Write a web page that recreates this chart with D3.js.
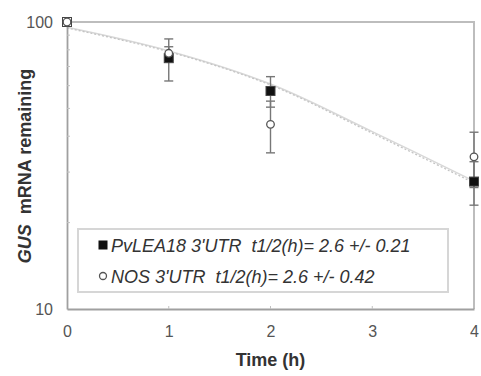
<!DOCTYPE html>
<html>
<head>
<meta charset="utf-8">
<script src="https://cdn.jsdelivr.net/npm/d3@7"></script>
<style>
  body { margin: 0; background: #fff; }
  text { font-family: Arial, "Liberation Sans", sans-serif; }
</style>
</head>
<body>
<script>
// data
var times = [0, 1, 2, 4]
var leaMean = [100, 74.8, 57.5, 27.8]
var leaErr = [0, 12.5, 7, 4.8]
var nosMean = [100, 77.8, 44, 33.9]
var nosErr = [0, 4.2, 9, 7.4]
// fitted curves (as drawn)
var fitTimes = [0, 1, 2, 3, 4]
var leaFit = [95.3, 78.8, 60.3, 41.0, 27.5]
var nosFit = [95.8, 79.3, 60.8, 41.5, 27.9]
var xTicks = [0, 1, 2, 3, 4]
var yTicks = [10, 100]
var yMinor = [20, 30, 40, 50, 60, 70, 80, 90]
var legendLabels = [
    {name: "PvLEA18 3'UTR", stat: "t1/2(h)= 2.6 +/- 0.21"},
    {name: "NOS 3'UTR", stat: "t1/2(h)= 2.6 +/- 0.42"}
]

var W = 481, H = 376
var margin = {top: 22, right: 7, bottom: 67, left: 67}

var x = d3.scaleLinear().domain([0, 4]).range([margin.left, W - margin.right])
var y = d3.scaleLog().domain([10, 100]).range([H - margin.bottom, margin.top])

var svg = d3.select("body").append("svg")
    .attr("width", W)
    .attr("height", H)

var axisCol = "#a0a0a0"
var font = "Arial, 'Liberation Sans', sans-serif"

// frame (top + right)
svg.append("path")
    .attr("d", `M${x(0)},${y(100)}H${x(4)}V${y(10)}`)
    .attr("fill", "none").attr("stroke", "#bdbdbd").attr("stroke-width", 2)

// fit curves
var line = d3.line().x((d, i) => x(fitTimes[i])).y(d => y(d)).curve(d3.curveCatmullRom)
svg.append("path").datum(nosFit)
    .attr("d", line).attr("fill", "none")
    .attr("stroke", "#d8d8d8").attr("stroke-width", 1.5)
svg.append("path").datum(leaFit)
    .attr("d", line).attr("fill", "none")
    .attr("stroke", "#c4c4c4").attr("stroke-width", 1.3).attr("stroke-dasharray", "2,2")

// axes
var yAxis = g => g
    .attr("transform", `translate(${margin.left},0)`)
    .call(d3.axisLeft(y).tickValues(yTicks).tickFormat(d3.format("d")).tickSize(0).tickPadding(14))
    .call(g => g.select(".domain").attr("stroke", axisCol).attr("stroke-width", 1.8))
    .call(g => g.selectAll(".tick text").attr("font-size", 16).attr("fill", "#555").attr("font-family", font))
var xAxis = g => g
    .attr("transform", `translate(0,${H - margin.bottom})`)
    .call(d3.axisBottom(x).tickValues(xTicks).tickFormat(d3.format("d")).tickSize(0).tickPadding(17))
    .call(g => g.select(".domain").attr("stroke", axisCol).attr("stroke-width", 1.8))
    .call(g => g.selectAll(".tick text").attr("font-size", 16).attr("fill", "#555").attr("font-family", font))
svg.append("g").call(yAxis)
svg.append("g").call(xAxis)

// minor log ticks on y, inward
svg.append("g").selectAll("line")
    .data(yMinor)
    .join("line")
        .attr("x1", margin.left).attr("x2", margin.left + 3)
        .attr("y1", d => y(d)).attr("y2", d => y(d))
        .attr("stroke", "#c0c0c0")
// small inward ticks on x
svg.append("g").selectAll("line")
    .data([1, 2, 3])
    .join("line")
        .attr("x1", d => x(d)).attr("x2", d => x(d))
        .attr("y1", y(10)).attr("y2", y(10) - 3)
        .attr("stroke", "#c0c0c0")

// axis titles
svg.append("text")
    .attr("transform", "translate(31,166) rotate(-90)")
    .attr("text-anchor", "middle").attr("font-size", 18).attr("font-weight", "bold").attr("fill", "#333")
    .attr("xml:space", "preserve")
    .call(t => {
        t.append("tspan").attr("font-style", "italic").text("GUS")
        t.append("tspan").text("  mRNA remaining")
    })
svg.append("text")
    .attr("x", (x(0) + x(4)) / 2).attr("y", 366)
    .attr("text-anchor", "middle").attr("font-size", 18).attr("font-weight", "bold").attr("fill", "#333")
    .text("Time (h)")

// error bars
function errorBars(mean, err) {
    var g = svg.append("g").attr("stroke", "#777").attr("stroke-width", 1.4)
    var data = times.map((t, i) => ({t: t, m: mean[i], e: err[i]})).filter(d => d.e > 0)
    g.selectAll(".v").data(data).join("line")
        .attr("x1", d => x(d.t)).attr("x2", d => x(d.t))
        .attr("y1", d => y(d.m + d.e)).attr("y2", d => y(d.m - d.e))
    g.selectAll(".c1").data(data).join("line")
        .attr("x1", d => x(d.t) - 4.5).attr("x2", d => x(d.t) + 4.5)
        .attr("y1", d => y(d.m + d.e)).attr("y2", d => y(d.m + d.e))
    g.selectAll(".c2").data(data).join("line")
        .attr("x1", d => x(d.t) - 4.5).attr("x2", d => x(d.t) + 4.5)
        .attr("y1", d => y(d.m - d.e)).attr("y2", d => y(d.m - d.e))
}
errorBars(leaMean, leaErr)
errorBars(nosMean, nosErr)

// markers
svg.append("g").selectAll("rect")
    .data(times.map((t, i) => [t, leaMean[i]]))
    .join("rect")
        .attr("x", d => x(d[0]) - 4.5).attr("y", d => y(d[1]) - 4.5)
        .attr("width", 9).attr("height", 9)
        .attr("fill", d => d[0] === 0 ? "#fff" : "#111")
        .attr("stroke", "#444").attr("stroke-width", 1)
svg.append("g").selectAll("circle")
    .data(times.map((t, i) => [t, nosMean[i]]))
    .join("circle")
        .attr("cx", d => x(d[0])).attr("cy", d => y(d[1]))
        .attr("r", 3.8)
        .attr("fill", "#fff").attr("stroke", "#555").attr("stroke-width", 1.3)

// legend
var lg = svg.append("g")
lg.append("rect")
    .attr("x", 78).attr("y", 229).attr("width", 370).attr("height", 63)
    .attr("fill", "#fff").attr("stroke", "#d6d6d6").attr("stroke-width", 2)
legendLabels.forEach((d, i) => {
    var ly = 245 + i * 31
    if (i === 0) {
        lg.append("rect").attr("x", 98.5).attr("y", ly - 4.5).attr("width", 9).attr("height", 9).attr("fill", "#111")
    } else {
        lg.append("circle").attr("cx", 103).attr("cy", ly).attr("r", 3.5)
            .attr("fill", "#fff").attr("stroke", "#555").attr("stroke-width", 1.3)
    }
    lg.append("text")
        .attr("x", 111).attr("y", ly + 6.5)
        .attr("font-size", 18).attr("font-style", "italic").attr("fill", "#333")
        .attr("xml:space", "preserve")
        .text(d.name + "  " + d.stat)
})
</script>
</body>
</html>
